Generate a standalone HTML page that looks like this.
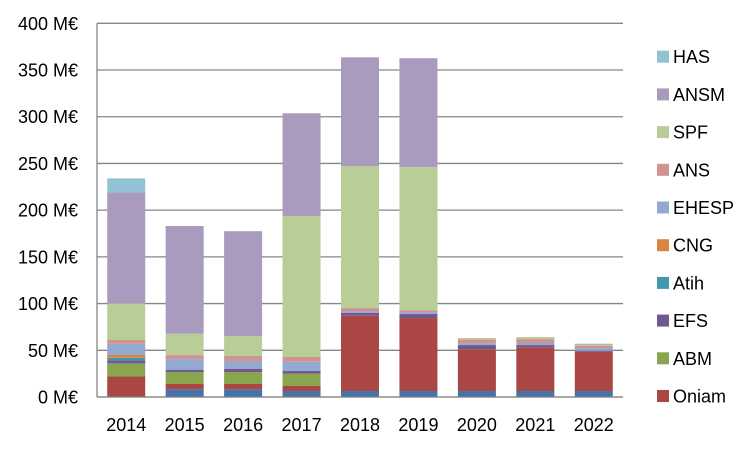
<!DOCTYPE html>
<html><head><meta charset="utf-8"><style>
body{margin:0;background:#fff;}
svg{display:block;font-family:"Liberation Sans",sans-serif;}
</style></head><body>
<svg id="chart" width="750" height="450"></svg>
<script>
const categories=["2014","2015","2016","2017","2018","2019","2020","2021","2022"];
const seriesNames=["Autres","Oniam","ABM","EFS","Atih","CNG","EHESP","ANS","SPF","ANSM","HAS"];
const sAutres=[0,8.2,8.2,6.4,6.4,6.4,6.4,6.4,6.4];
const sOniam=[22,5.7,5.7,5.4,80.6,78.1,44.6,46.8,42.1];
const sABM=[14,12.8,12.8,13.1,0,0,0,0,0];
const sEFS=[3,2.2,3.6,2.9,3.2,4.3,4.6,2.4,1.1];
const sAtih=[3,0,0,0,0,0,0,0,0];
const sCNG=[3,0,0,0,0,0,0,0,0];
const sEHESP=[12,11.7,8.2,10,1.8,2.1,1.8,2.2,2.8];
const sANS=[4,4.3,5.4,5,3.2,2.1,4.3,4.2,2.5];
const sSPF=[39,22.8,21.3,150.8,151.8,153,1.4,2.2,1.1];
const sANSM=[119,115.3,112.3,110.1,116.6,116.6,0,0,1];
const sHAS=[15,0,0,0,0,0,0,0,0];
const seriesData=[sAutres,sOniam,sABM,sEFS,sAtih,sCNG,sEHESP,sANS,sSPF,sANSM,sHAS];
const colors=["#4572a7","#aa4643","#89a54e","#71588f","#4198af","#db843d","#93a9cf","#d19392","#b9cd96","#a99bbd","#92c3d5"];
const yTicks=[0,50,100,150,200,250,300,350,400];
const legendOrder=["HAS","ANSM","SPF","ANS","EHESP","CNG","Atih","EFS","ABM","Oniam"];

const NS="http://www.w3.org/2000/svg";
const svg=document.getElementById("chart");
const L=97,R=623,T=23.3,B=397,YMAX=400;
const y=v=>B-(v/YMAX)*(B-T);
const band=(R-L)/categories.length;
const xc=i=>L+band*(i+0.5);
const BW=38;
function mk(tag,attrs){const e=document.createElementNS(NS,tag);for(const k in attrs)e.setAttribute(k,attrs[k]);svg.appendChild(e);return e;}

yTicks.forEach(t=>{
  const g=mk("line",{x1:L,x2:R,y1:y(t),y2:y(t),stroke:"#868686","stroke-width":1.3});
  
  
  const tx=mk("text",{x:78,y:y(t)+6.5,"text-anchor":"end","font-size":18,fill:"#000"});
  tx.textContent=t+" M€";
  
  
});
const ax=mk("line",{x1:L,x2:L,y1:T,y2:B,stroke:"#868686","stroke-width":1.3});



categories.forEach((c,i)=>{
  let cum=0;
  seriesData.forEach((s,k)=>{
    const v=s[i];
    if(v>0){
      const r=mk("rect",{x:xc(i)-BW/2,y:y(cum+v),width:BW,height:y(cum)-y(cum+v),fill:colors[k]});
      
      
    }
    cum+=v;
  });
  const t=mk("text",{x:xc(i),y:431,"text-anchor":"middle","font-size":18,fill:"#000"});
  t.textContent=c;
  
  
});
const base=mk("line",{x1:L,x2:R,y1:B,y2:B,stroke:"#868686","stroke-width":1.3});



legendOrder.forEach((n,j)=>{
  const k=seriesNames.indexOf(n);
  const cy=56.7+j*37.7;
  const r=mk("rect",{x:657,y:cy-6,width:12,height:12,fill:colors[k]});
  
  
  const t=mk("text",{x:673,y:cy+6.5,"font-size":18,fill:"#000"});
  t.textContent=n;
  
  
});
</script>
</body></html>
